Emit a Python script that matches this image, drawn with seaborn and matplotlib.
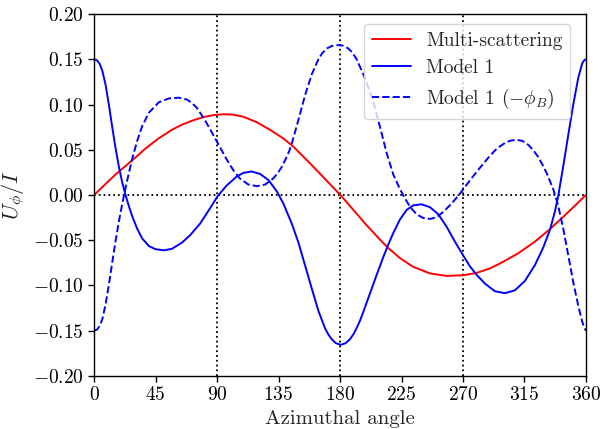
import matplotlib
matplotlib.use("Agg")
import matplotlib.pyplot as plt
import pandas as pd
import seaborn as sns

# values (angle in degrees, U_phi / I)
ms_angle = [0, 8.3, 15.6, 22.9, 30.2, 37.6, 47.3, 57.0, 64.4, 71.7, 80.0, 88.0,
            95.0, 102.0, 109.3, 119.0, 128.8, 138.5, 145.8, 154.4, 164.1, 173.9,
            180.5, 188.5, 198.3, 209.3, 215.4, 223.9, 233.6, 245.9, 258.0, 270.2,
            280.0, 289.8, 298.3, 310.5, 322.7, 333.7, 344.6, 352.0, 360]
ms_value = [0.000, 0.0122, 0.0227, 0.032, 0.0415, 0.0515, 0.0628, 0.0722, 0.0778,
            0.0822, 0.0862, 0.0885, 0.0893, 0.0888, 0.0865, 0.0805, 0.072, 0.0625,
            0.0535, 0.0405, 0.0255, 0.010, -0.0005, -0.0143, -0.0315, -0.0495,
            -0.0588, -0.0698, -0.0795, -0.0868, -0.0895, -0.0888, -0.0862, -0.0812,
            -0.0748, -0.0645, -0.0516, -0.0377, -0.0225, -0.0118, 0.000]

m1_angle = [0, 2, 4, 6, 8.3, 10.7, 13.2, 15.6, 18.1, 20.5, 22.9, 25.4, 27.8, 31.5,
            35.1, 40.0, 44.9, 51.0, 57.0, 64.4, 70.2, 77.6, 84.9, 90.5, 97.0,
            104.4, 109.3, 115.4, 121.5, 127.6, 133.7, 138.5, 144.6, 149.5, 154.4,
            159.3, 164.1, 169.0, 171.5, 173.9, 177.0, 180.5, 184.0, 187.3, 190.0,
            192.2, 194.6, 197.0, 202.0, 206.9, 211.7, 215.4, 219.0, 223.9, 228.8,
            233.6, 239.8, 245.9, 251.9, 258.0, 264.1, 270.2, 275.1, 280.0, 286.1,
            293.4, 300.7, 308.0, 315.4, 322.7, 328.8, 333.7, 337.3, 339.7, 343.4,
            347.0, 350.7, 354.4, 357.3, 358.7, 360]
m1_value = [0.150, 0.149, 0.145, 0.137, 0.122, 0.100, 0.075, 0.052, 0.031, 0.014,
            0.000, -0.0125, -0.0235, -0.0375, -0.048, -0.0565, -0.060, -0.0612,
            -0.0595, -0.0525, -0.0445, -0.0315, -0.0145, -0.001, 0.0105, 0.0205,
            0.0245, 0.026, 0.0232, 0.0165, 0.004, -0.0095, -0.0315, -0.0525,
            -0.078, -0.1035, -0.128, -0.1475, -0.1545, -0.1595, -0.164, -0.1657,
            -0.164, -0.1595, -0.1535, -0.147, -0.139, -0.1295, -0.1085, -0.088,
            -0.0685, -0.0545, -0.042, -0.027, -0.0165, -0.0115, -0.0103, -0.0136,
            -0.0213, -0.035, -0.0516, -0.067, -0.079, -0.0884, -0.098, -0.1065,
            -0.1086, -0.1055, -0.095, -0.0775, -0.058, -0.0385, -0.0185, -0.0015,
            0.0315, 0.0655, 0.0995, 0.1295, 0.1455, 0.149, 0.150]

m1b_angle = [0, 2, 4, 6, 8.3, 10.7, 13.2, 15.6, 18.1, 20.5, 22.9, 25.4, 27.8,
             31.5, 35.1, 40.0, 47.3, 54.6, 62.0, 68.0, 71.7, 75.1, 81.2, 87.3,
             92.2, 97.1, 102.0, 106.8, 112.9, 119.0, 125.1, 131.2, 134.5, 137.3,
             139.8, 142.9, 144.6, 149.5, 154.4, 159.3, 164.1, 167.0, 170.3, 174.0,
             178.8, 182.0, 186.1, 189.0, 192.2, 198.3, 204.4, 209.3, 214.2, 219.0,
             223.9, 226.3, 231.2, 236.1, 241.0, 245.9, 250.8, 255.6, 261.7, 267.8,
             275.0, 282.4, 289.8, 295.0, 300.7, 305.0, 309.3, 313.5, 317.8, 321.5,
             325.1, 328.2, 331.2, 336.1, 339.7, 343.4, 347.0, 350.7, 354.4, 357.3,
             358.7, 360]
m1b_value = [-0.150, -0.149, -0.145, -0.137, -0.121, -0.0995, -0.0745, -0.051,
             -0.029, -0.010, 0.0075, 0.0245, 0.040, 0.060, 0.076, 0.091, 0.1025,
             0.1068, 0.1076, 0.1055, 0.1015, 0.0965, 0.0825, 0.066, 0.0525, 0.039,
             0.027, 0.018, 0.0115, 0.0098, 0.0115, 0.0184, 0.0245, 0.031, 0.0385,
             0.049, 0.0565, 0.083, 0.1105, 0.1335, 0.150, 0.157, 0.162, 0.1648,
             0.1658, 0.1652, 0.162, 0.1575, 0.150, 0.129, 0.103, 0.075, 0.046,
             0.0225, 0.0065, -0.0005, -0.013, -0.0215, -0.0255, -0.0265, -0.0245,
             -0.0187, -0.0095, 0.0015, 0.016, 0.030, 0.0435, 0.0515, 0.0575,
             0.0602, 0.061, 0.0598, 0.0555, 0.0495, 0.042, 0.0335, 0.0245, 0.0065,
             -0.0115, -0.037, -0.066, -0.096, -0.1225, -0.140, -0.1465, -0.150]

x_ticks = [0, 45, 90, 135, 180, 225, 270, 315, 360]
y_ticks = [-0.20, -0.15, -0.10, -0.05, 0.00, 0.05, 0.10, 0.15, 0.20]
marker_angles = [90, 180, 270]


def main():
    sns.set_style("ticks")
    plt.rcParams["font.family"] = "serif"
    plt.rcParams["font.serif"] = ["cmr10", "DejaVu Serif"]
    plt.rcParams["mathtext.fontset"] = "cm"
    plt.rcParams["axes.formatter.use_mathtext"] = True

    fig, ax = plt.subplots(figsize=(6.04, 4.29), dpi=100)
    fig.subplots_adjust(left=0.156, right=0.970, top=0.967, bottom=0.124)

    # dotted guides at 90/180/270 and at zero
    for a in marker_angles:
        ax.axvline(a, color="black", linestyle=":", linewidth=1.3, zorder=1)
    ax.axhline(0, color="black", linestyle=":", linewidth=1.3, zorder=1)

    ms = pd.DataFrame({"angle": ms_angle, "value": ms_value})
    m1 = pd.DataFrame({"angle": m1_angle, "value": m1_value})
    m1b = pd.DataFrame({"angle": m1b_angle, "value": m1b_value})

    sns.lineplot(data=ms, x="angle", y="value", color="red", linewidth=1.4,
                 label="Multi-scattering", ax=ax)
    sns.lineplot(data=m1, x="angle", y="value", color="blue", linewidth=1.4,
                 label="Model 1", ax=ax)
    sns.lineplot(data=m1b, x="angle", y="value", color="blue", linewidth=1.4,
                 linestyle="--", label=r"Model 1 $(-\phi_B)$", ax=ax)

    ax.set_xlim(0, 360)
    ax.set_ylim(-0.2, 0.2)
    ax.set_xticks(x_ticks)
    ax.set_yticks(y_ticks)
    ax.set_yticklabels([f"${v:.2f}$" for v in y_ticks])
    ax.set_xticklabels([f"${v}$" for v in x_ticks])
    ax.tick_params(labelsize=14, direction="out", length=4, width=1, colors="black")
    for s in ax.spines.values():
        s.set_visible(True)
        s.set_color("black")
        s.set_linewidth(1)

    ax.set_xlabel("Azimuthal angle", fontsize=15)
    ax.set_ylabel(r"$U_\phi/I$", fontsize=16)
    ax.legend(loc="upper right", bbox_to_anchor=(0.988, 1.0), fontsize=14,
              framealpha=0.8, fancybox=True)

    fig.savefig("out.png", dpi=100)


if __name__ == "__main__":
    main()
